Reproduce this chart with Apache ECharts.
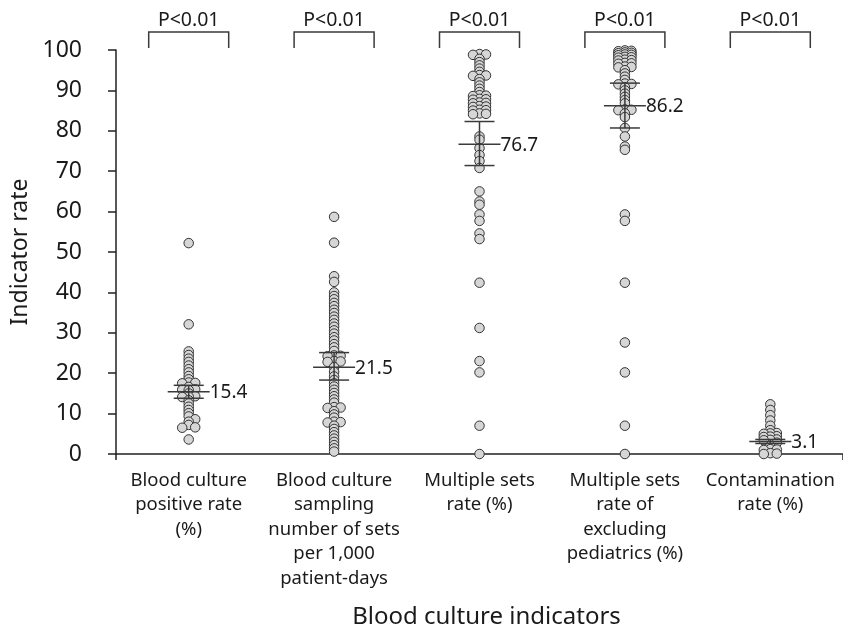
<!DOCTYPE html>
<html>
<head>
<meta charset="utf-8">
<script src="https://cdn.jsdelivr.net/npm/echarts@6/dist/echarts.min.js"></script>
<style>
  html, body { margin: 0; padding: 0; background: #fff; }
  #chart { width: 843px; height: 634px; }
</style>
</head>
<body>
<div id="chart"></div>
<script>
// categories on the x axis
const categories = [
  'Blood culture\npositive rate\n(%)',
  'Blood culture\nsampling\nnumber of sets\nper 1,000\npatient-days',
  'Multiple sets\nrate (%)',
  'Multiple sets\nrate of\nexcluding\npediatrics (%)',
  'Contamination\nrate (%)'
];

// hospital values per indicator
const positiveRate = [52.2, 32.1, 25.4, 24.5, 23.6, 22.8, 21.9, 21.0, 20.2, 19.3, 18.5, 17.7, 17.6, 17.5,
  16.6, 16.0, 15.9, 15.8, 15.0, 14.3, 14.2, 14.1, 13.3, 12.5, 11.7, 10.9, 10.1, 9.3, 8.6, 8.0, 7.2, 6.6, 6.5, 3.6];
const setsPer1000 = [58.7, 52.3, 44.0, 42.6, 40.0, 39.1, 38.3, 37.4, 36.6, 35.7, 34.9, 34.0, 33.2, 32.3, 31.5,
  30.6, 29.8, 28.9, 28.1, 27.2, 26.4, 25.5, 24.4, 24.3, 24.2, 23.0, 22.9, 22.8, 21.5, 20.3, 19.2, 18.3, 17.5,
  16.7, 15.9, 15.1, 14.3, 13.5, 12.7, 11.6, 11.5, 11.4, 10.6, 9.8, 9.0, 8.0, 7.9, 7.8, 7.0, 6.2, 5.4, 4.6,
  3.8, 3.0, 2.2, 1.4, 0.6];
const multipleSets = [99.0, 98.9, 98.8, 97.8, 97.0, 96.2, 95.4, 94.6, 93.8, 93.7, 93.6, 92.8, 92.0, 91.2, 90.4,
  89.6, 88.8, 88.7, 88.6, 87.9, 87.8, 87.7, 87.0, 86.9, 86.8, 86.1, 86.0, 85.9, 85.2, 85.1, 85.0, 84.3, 84.2,
  84.1, 78.6, 77.8, 75.7, 74.0, 72.5, 70.8, 65.0, 62.5, 61.7, 59.3, 57.7, 54.6, 53.2, 42.4, 31.2, 23.0, 20.2,
  7.0, 0];
const multipleSetsExPed = [99.9, 99.8, 99.7, 99.4, 99.3, 99.2, 98.9, 98.8, 98.7, 98.3, 98.2, 98.1, 97.6, 97.5,
  97.4, 96.8, 96.7, 96.6, 95.9, 95.8, 95.7, 95.0, 94.2, 93.4, 92.6, 91.7, 91.6, 91.5, 90.8, 90.0, 89.2, 88.4,
  87.6, 86.8, 85.3, 85.2, 85.1, 84.3, 83.4, 80.7, 78.6, 76.1, 75.3, 59.3, 57.7, 42.4, 27.6, 20.2, 7.0, 0];
const contamination = [12.3, 10.9, 9.6, 8.3, 7.0, 5.9, 5.2, 5.1, 5.0, 4.4, 4.3, 4.2, 3.6, 3.5, 3.4, 2.8, 2.0,
  1.2, 1.1, 1.0, 0.2, 0.1, 0.0];

// mean and 95% CI per indicator
const means = [15.4, 21.5, 76.7, 86.2, 3.1];
const ciLow = [13.8, 18.3, 71.4, 80.7, 2.6];
const ciHigh = [17.0, 25.1, 82.3, 91.8, 3.6];
const pLabels = ['P<0.01', 'P<0.01', 'P<0.01', 'P<0.01', 'P<0.01'];

const groups = [positiveRate, setsPer1000, multipleSets, multipleSetsExPed, contamination];

const FONT = '"Noto Sans", "Open Sans", sans-serif';
const TXT = '#1a1a1a';
const LINE = '#3a3a3a';
const GRID_TOP = 50, GRID_BOTTOM = 179;
const pxPerUnit = (634 - GRID_TOP - GRID_BOTTOM) / 100;

// simple 3-column beeswarm: dodge points that would sit on top of each other
function swarm(values) {
  const cols = [0, 6.5, -6.5];
  const minDist = 3;
  const order = values.map((v, i) => i).sort((a, b) => values[b] - values[a]);
  const placed = [];
  const offs = new Array(values.length).fill(0);
  order.forEach(idx => {
    const y = values[idx] * pxPerUnit;
    let pick = null, bestC = 0, bestD = -1;
    for (const c of cols) {
      let md = Infinity;
      placed.forEach(p => { md = Math.min(md, Math.hypot(c - p.x, y - p.y)); });
      if (md >= minDist) { pick = c; break; }
      if (md > bestD) { bestD = md; bestC = c; }
    }
    if (pick === null) pick = bestC;
    placed.push({ x: pick, y: y });
    offs[idx] = pick;
  });
  return offs;
}

const pointData = [];
groups.forEach((vals, gi) => {
  const offs = swarm(vals);
  vals.forEach((v, i) => {
    pointData.push({ value: [gi, v], symbolOffset: [offs[i], 0] });
  });
});

const chart = echarts.init(document.getElementById('chart'));

const option = {
  animation: false,
  backgroundColor: '#fff',
  textStyle: { fontFamily: FONT },
  grid: { left: 116, right: -7, top: GRID_TOP, bottom: GRID_BOTTOM },
  xAxis: {
    type: 'category',
    data: categories,
    boundaryGap: true,
    name: 'Blood culture indicators',
    nameLocation: 'middle',
    nameGap: 151,
    nameTextStyle: { fontSize: 24, color: TXT, fontFamily: FONT, padding: [0, 0, 0, 14] },
    axisLine: { lineStyle: { color: '#222', width: 1.5 } },
    axisTick: { show: true, length: 6, interval: function (i) { return i === 0; }, lineStyle: { color: '#222', width: 1.5 } },
    axisLabel: { margin: 14, fontSize: 18.5, lineHeight: 24.5, color: TXT, fontFamily: FONT, interval: 0 },
    splitLine: { show: false }
  },
  yAxis: {
    type: 'value',
    min: 0,
    max: 100,
    interval: 10,
    name: 'Indicator rate',
    nameLocation: 'middle',
    nameGap: 82,
    nameTextStyle: { fontSize: 23, color: TXT, fontFamily: FONT },
    axisLine: { show: true, lineStyle: { color: '#222', width: 1.5 } },
    axisTick: { show: true, length: 8, lineStyle: { color: '#222', width: 1.5 } },
    axisLabel: { margin: 34, fontSize: 23, color: TXT, fontFamily: FONT },
    splitLine: { show: false }
  },
  series: [
    {
      type: 'scatter',
      data: pointData,
      symbol: 'circle',
      symbolSize: 9.5,
      itemStyle: { color: '#d6d6d6', borderColor: '#333', borderWidth: 1, opacity: 1 },
      clip: false,
      z: 2
    },
    {
      // mean line, CI whiskers and mean label
      type: 'custom',
      clip: false,
      z: 3,
      data: means.map((m, i) => [i, m, ciLow[i], ciHigh[i]]),
      renderItem: function (params, api) {
        const i = api.value(0);
        const c = api.coord([i, api.value(1)]);
        const lo = api.coord([i, api.value(2)]);
        const hi = api.coord([i, api.value(3)]);
        const st = { stroke: LINE, lineWidth: 1.5 };
        return {
          type: 'group',
          children: [
            { type: 'line', shape: { x1: c[0], y1: lo[1], x2: c[0], y2: hi[1] }, style: st },
            { type: 'line', shape: { x1: c[0] - 15, y1: lo[1], x2: c[0] + 15, y2: lo[1] }, style: st },
            { type: 'line', shape: { x1: c[0] - 15, y1: hi[1], x2: c[0] + 15, y2: hi[1] }, style: st },
            { type: 'line', shape: { x1: c[0] - 21, y1: c[1], x2: c[0] + 21, y2: c[1] }, style: st },
            {
              type: 'text',
              x: c[0] + 21, y: c[1] + 1,
              style: {
                text: String(api.value(1)), fill: TXT, fontSize: 19, fontFamily: FONT,
                align: 'left', verticalAlign: 'middle'
              }
            }
          ]
        };
      }
    },
    {
      // significance brackets above each group
      type: 'custom',
      clip: false,
      z: 3,
      data: pLabels.map((p, i) => [i, 100]),
      renderItem: function (params, api) {
        const i = api.value(0);
        const top = api.coord([i, api.value(1)]);
        const x = top[0];
        const yb = top[1] - 18;
        const st = { stroke: LINE, lineWidth: 1.5, fill: null };
        return {
          type: 'group',
          children: [
            {
              type: 'polyline',
              shape: { points: [[x - 40, top[1] - 2], [x - 40, yb], [x + 40, yb], [x + 40, top[1] - 2]] },
              style: st
            },
            {
              type: 'text',
              x: x, y: yb - 12,
              style: {
                text: pLabels[params.dataIndex], fill: TXT, fontSize: 19.5, fontFamily: FONT,
                align: 'center', verticalAlign: 'middle'
              }
            }
          ]
        };
      }
    }
  ]
};

chart.setOption(option);
</script>
</body>
</html>
